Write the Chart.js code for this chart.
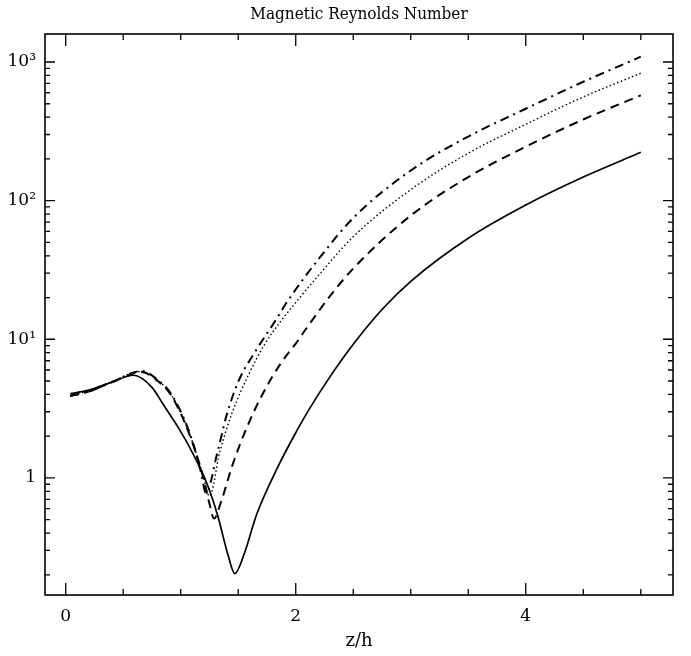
<!DOCTYPE html>
<html><head><meta charset="utf-8">
<script src="https://cdn.jsdelivr.net/npm/chart.js@4.4.1/dist/chart.umd.min.js"></script>
<style>html,body{margin:0;padding:0;background:#fff}#wrap{width:691px;height:656px}canvas{display:block}</style>
</head><body>
<div id="wrap"><canvas id="c" width="691" height="656"></canvas></div>
<script>
// ---- data ----
const zSolid = [0.04, 0.2, 0.4, 0.59, 0.75, 0.84, 0.99, 1.10, 1.23, 1.32, 1.41, 1.47, 1.55, 1.66, 1.84, 2.01, 2.12, 2.3, 2.5, 2.75, 3.0, 3.5, 4.0, 4.5, 5.0];
const rSolid = [4.05, 4.3, 4.9, 5.5, 4.5, 3.47, 2.23, 1.53, 0.90, 0.54, 0.28, 0.204, 0.28, 0.545, 1.18, 2.19, 3.16, 5.4, 9.2, 16.4, 26.2, 53.6, 93, 148, 223];

const zDashed = [0.04, 0.2, 0.4, 0.66, 0.8, 0.92, 1.08, 1.19, 1.25, 1.29, 1.35, 1.45, 1.57, 1.71, 1.88, 2.0, 2.09, 2.3, 2.5, 3.0, 3.5, 4.0, 4.5, 5.0];
const rDashed = [3.9, 4.2, 4.9, 5.8, 5.0, 3.9, 2.02, 1.05, 0.65, 0.51, 0.67, 1.24, 2.26, 4.0, 6.9, 9.3, 11.9, 20.6, 32.4, 78, 148, 245, 385, 575];

const zDotted = [0.04, 0.2, 0.4, 0.66, 0.8, 0.92, 1.08, 1.19, 1.25, 1.34, 1.45, 1.59, 1.73, 1.87, 1.99, 2.2, 2.5, 3.0, 3.5, 4.0, 4.5, 5.0];
const rDotted = [3.95, 4.25, 4.95, 5.85, 5.05, 3.95, 2.05, 1.07, 0.74, 1.54, 3.0, 5.56, 9.2, 13.5, 18, 29, 55, 120, 220, 355, 560, 830];

const zDashDot = [0.04, 0.2, 0.4, 0.66, 0.8, 0.92, 1.08, 1.17, 1.22, 1.32, 1.40, 1.50, 1.65, 1.82, 1.93, 2.2, 2.5, 3.0, 3.5, 4.0, 4.5, 5.0];
const rDashDot = [3.9, 4.2, 4.9, 5.9, 5.1, 4.0, 2.08, 1.15, 0.78, 1.54, 2.85, 4.94, 8.2, 13.5, 18.9, 38, 75, 165, 290, 460, 720, 1092];

const xTickValues = [0, 2, 4];
const xTickLabels = ['0', '2', '4'];
const xMinorValues = [0, 0.5, 1, 1.5, 2, 2.5, 3, 3.5, 4, 4.5, 5];
const yTickValues = [1, 10, 100, 1000];
const yTickLabels = ['1', '10\u00B9', '10\u00B2', '10\u00B3'];

const titleText = 'Magnetic Reynolds Number';
const xTitle = 'z/h';

const pts = (zs, rs) => zs.map((z, i) => ({x: z, y: rs[i]}));
const FONT = '"DejaVu Serif", "Liberation Serif", serif';
const TFONT = '"DejaVu Serif Condensed", "DejaVu Serif", serif';

const frameTicks = {
  id: 'frameTicks',
  afterDatasetsDraw(chart) {
    const {ctx, chartArea: a, scales: {x, y}} = chart;
    ctx.save();
    ctx.strokeStyle = '#000';
    ctx.lineWidth = 1.6;
    ctx.strokeRect(a.left, a.top, a.right - a.left, a.bottom - a.top);
    ctx.lineWidth = 1.3;
    ctx.beginPath();
    xMinorValues.forEach(v => {
      const px = x.getPixelForValue(v);
      const len = xTickValues.includes(v) ? 12 : 6;
      ctx.moveTo(px, a.bottom); ctx.lineTo(px, a.bottom - len);
      ctx.moveTo(px, a.top); ctx.lineTo(px, a.top + len);
    });
    for (let d = 0.1; d <= 1000; d *= 10) {
      for (let m = 1; m <= 9; m++) {
        const v = d * m;
        if (v < y.min || v > y.max) continue;
        const py = y.getPixelForValue(v);
        const len = m === 1 ? 10 : 5;
        ctx.moveTo(a.left, py); ctx.lineTo(a.left + len, py);
        ctx.moveTo(a.right, py); ctx.lineTo(a.right - len, py);
      }
    }
    ctx.stroke();
    ctx.restore();
  }
};

const common = {borderColor: '#000', backgroundColor: '#000', pointRadius: 0, fill: false, cubicInterpolationMode: 'monotone'};

new Chart(document.getElementById('c'), {
  type: 'line',
  data: {
    datasets: [
      Object.assign({label: 'solid', data: pts(zSolid, rSolid), borderWidth: 1.7}, common),
      Object.assign({label: 'dashed', data: pts(zDashed, rDashed), borderWidth: 2, borderDash: [9, 6]}, common),
      Object.assign({label: 'dotted', data: pts(zDotted, rDotted), borderWidth: 1.4, borderDash: [1.5, 2.5]}, common),
      Object.assign({label: 'dashdot', data: pts(zDashDot, rDashDot), borderWidth: 2, borderDash: [9, 5, 2, 5]}, common)
    ]
  },
  options: {
    responsive: false,
    animation: false,
    devicePixelRatio: 1,
    layout: {padding: {left: 0, right: 18, top: 0, bottom: 0}},
    plugins: {
      legend: {display: false},
      tooltip: {enabled: false},
      title: {
        display: true, text: titleText, fullSize: false, color: '#000',
        font: {family: TFONT, size: 17, weight: 'normal'},
        padding: {top: 4, bottom: 9.6}
      }
    },
    scales: {
      x: {
        type: 'linear', min: -0.18, max: 5.28,
        grid: {display: false, drawTicks: false},
        border: {display: false},
        afterBuildTicks: s => { s.ticks = xTickValues.map(v => ({value: v})); },
        afterFit: s => { s.height = 61; },
        ticks: {
          color: '#000', padding: 11, maxRotation: 0, autoSkip: false,
          font: {family: FONT, size: 17},
          callback: v => xTickLabels[xTickValues.indexOf(v)]
        },
        title: {display: true, text: xTitle, color: '#000', font: {family: FONT, size: 18}, padding: {top: 0, bottom: 4}}
      },
      y: {
        type: 'logarithmic', min: 0.143, max: 1592,
        grid: {display: false, drawTicks: false},
        border: {display: false},
        afterBuildTicks: s => { s.ticks = yTickValues.map(v => ({value: v, major: true})); },
        afterFit: s => { s.width = 45; },
        ticks: {
          color: '#000', padding: 9, autoSkip: false,
          font: {family: FONT, size: 17},
          callback: v => { const i = yTickValues.indexOf(v); return i >= 0 ? yTickLabels[i] : ''; }
        }
      }
    }
  },
  plugins: [frameTicks]
});
</script>
</body></html>
